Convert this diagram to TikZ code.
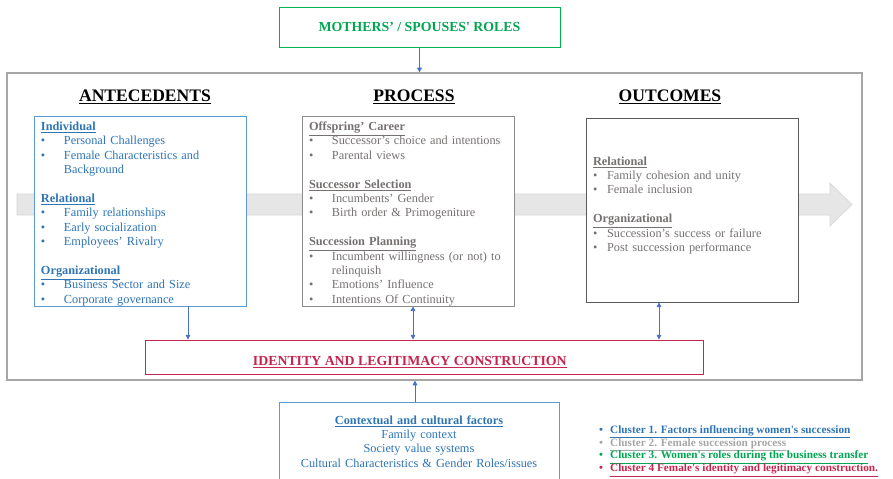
\documentclass[tikz,border=0pt]{standalone}
\usepackage{fontspec}
\setmainfont{Liberation Serif}
\usetikzlibrary{arrows.meta,positioning,calc}
\definecolor{ablue}{HTML}{2E75B6}
\definecolor{aline}{HTML}{5B9BD5}
\definecolor{pgray}{HTML}{767171}
\definecolor{pline}{HTML}{8C8C8C}
\definecolor{oline}{HTML}{595959}
\definecolor{rgreen}{HTML}{00A651}
\definecolor{gline}{HTML}{00B050}
\definecolor{crim}{HTML}{C8254E}
\definecolor{lgray}{HTML}{A6A6A6}
\definecolor{bandfill}{HTML}{E7E6E6}
\definecolor{bandline}{HTML}{D5D5D5}
\definecolor{arrowblue}{HTML}{4472C4}
\newcommand{\itm}[2][19.6pt]{\par\noindent\hangindent=#1\hangafter=1\makebox[#1][l]{\textbullet}#2}
\newcommand{\hd}[1]{\par\noindent\textbf{\underline{#1}}}
\newcommand{\gap}{\par\vspace{\baselineskip}}
\newcommand{\lgdline}[2]{{\color{#1}\makebox[9.4pt][l]{\textbullet}\underline{#2}}}
\tikzset{
  box/.style={rectangle, draw, fill=white, line width=0.6pt, inner xsep=2.1mm, inner ysep=0pt,
              align=left, font=\fontsize{10.5}{12.3}\selectfont},
  antebox/.style={box, draw=aline, text=ablue, text width=59.4mm, minimum height=56.4mm},
  procbox/.style={box, draw=pline, text=pgray, text width=59.4mm, minimum height=56.1mm},
  outbox/.style={box, draw=oline, text=pgray, text width=59.4mm, minimum height=55.2mm},
  ctxbox/.style={box, draw=aline, text=ablue, align=center, text width=79.8mm, minimum height=23.7mm},
  capbox/.style={rectangle, draw, fill=white, line width=0.8pt, align=center,
                 font=\fontsize{11.8}{14}\selectfont\bfseries},
  colhead/.style={font=\fontsize{15}{17}\selectfont\bfseries, inner sep=0pt},
  bigframe/.style={rectangle, draw=lgray, line width=1pt},
  bandarrow/.style={fill=bandfill, draw=bandline, line width=0.5pt},
  flow/.style={-{Triangle[length=4pt,width=4pt]}, draw=arrowblue, line width=0.6pt},
  dflow/.style={{Triangle[length=4pt,width=4pt]}-{Triangle[length=4pt,width=4pt]}, draw=arrowblue, line width=0.6pt},
  lgd/.style={font=\fontsize{9.6}{11}\selectfont\bfseries, align=left, inner sep=0pt}
}
\begin{document}
\begin{tikzpicture}[x=0.3mm, y=-0.3mm]
  \useasboundingbox (0,0) rectangle (893,478);
  \clip (0,0) rectangle (893,478);
  \node[bigframe, minimum width=256.5mm, minimum height=92.1mm] (frame) at (434.5,226.5) {};
  % grey band behind the three columns
  \filldraw[bandarrow] (17,194) -- (830,194) -- (830,183) -- (852,204.5) -- (830,226) -- (830,215) -- (17,215) -- cycle;
  \node[capbox, draw=gline, text=rgreen, minimum width=84.3mm, minimum height=12mm] (roles) at (419.5,27)
    {MOTHERS’ / SPOUSES\textquotesingle{} ROLES};
  \node[colhead] (hante) at (145,97) {\underline{ANTECEDENTS}};
  \node[colhead] (hproc) at (414,97) {\underline{PROCESS}};
  \node[colhead] (hout) at (670,97) {\underline{OUTCOMES}};
  \node[antebox] (ante) at (140,211) {%
    \hd{Individual}
    \itm{Personal Challenges}
    \itm{Female Characteristics and\newline Background}
    \gap
    \hd{Relational}
    \itm{Family relationships}
    \itm{Early socialization}
    \itm{Employees’ Rivalry}
    \gap
    \hd{Organizational}
    \itm{Business Sector and Size}
    \itm{Corporate governance}};
  \node[procbox] (proc) at (408,211) {%
    \hd{Offspring’ Career}
    \itm{Successor’s choice and intentions}
    \itm{Parental views}
    \gap
    \hd{Successor Selection}
    \itm{Incumbents’ Gender}
    \itm{Birth order \& Primogeniture}
    \gap
    \hd{Succession Planning}
    \itm{Incumbent willingness (or not) to\newline relinquish}
    \itm{Emotions’ Influence}
    \itm{Intentions Of Continuity}};
  \node[outbox] (outc) at (692,210) {%
    \hd{Relational}
    \itm[12pt]{Family cohesion and unity}
    \itm[12pt]{Female inclusion}
    \gap
    \hd{Organizational}
    \itm[12pt]{Succession’s success or failure}
    \itm[12pt]{Post succession performance}
    \par\vspace{3pt}\mbox{}};
  \node[capbox, draw=crim, text=crim, minimum width=167.4mm, minimum height=10.2mm,
        text height=15pt, text depth=0pt] (ident) at (424,357)
    {\underline{IDENTITY AND LEGITIMACY CONSTRUCTION}\hspace*{8.5mm}};
  \node[ctxbox] (ctx) at (419,441.5) {%
    \textbf{\underline{Contextual and cultural factors}}\\
    Family context\\
    Society value systems\\
    Cultural Characteristics \& Gender Roles/issues};
  \node[lgd, anchor=north west] (legend) at (599,425) {%
    \lgdline{ablue}{Cluster 1. Factors influencing women\textquotesingle{}s succession}\\
    \lgdline{lgray}{Cluster 2. Female succession process}\\
    \lgdline{rgreen}{Cluster 3. Women\textquotesingle{}s roles during the business transfer}\\
    \lgdline{crim}{Cluster 4 Female\textquotesingle{}s identity and legitimacy construction.}};
  \draw[flow] (roles.south) -- (roles.south |- frame.north);
  \draw[flow] ([xshift=14.4mm]ante.south) -- ([xshift=14.4mm]ante.south |- ident.north);
  \draw[dflow] ([xshift=1.5mm]proc.south) -- ([xshift=1.5mm]proc.south |- ident.north);
  \draw[dflow] ([xshift=-9.9mm]outc.south) -- ([xshift=-9.9mm]outc.south |- ident.north);
  \draw[flow] ([xshift=-1.2mm]ctx.north) -- ([xshift=-1.2mm]ctx.north |- frame.south);
\end{tikzpicture}
\end{document}
